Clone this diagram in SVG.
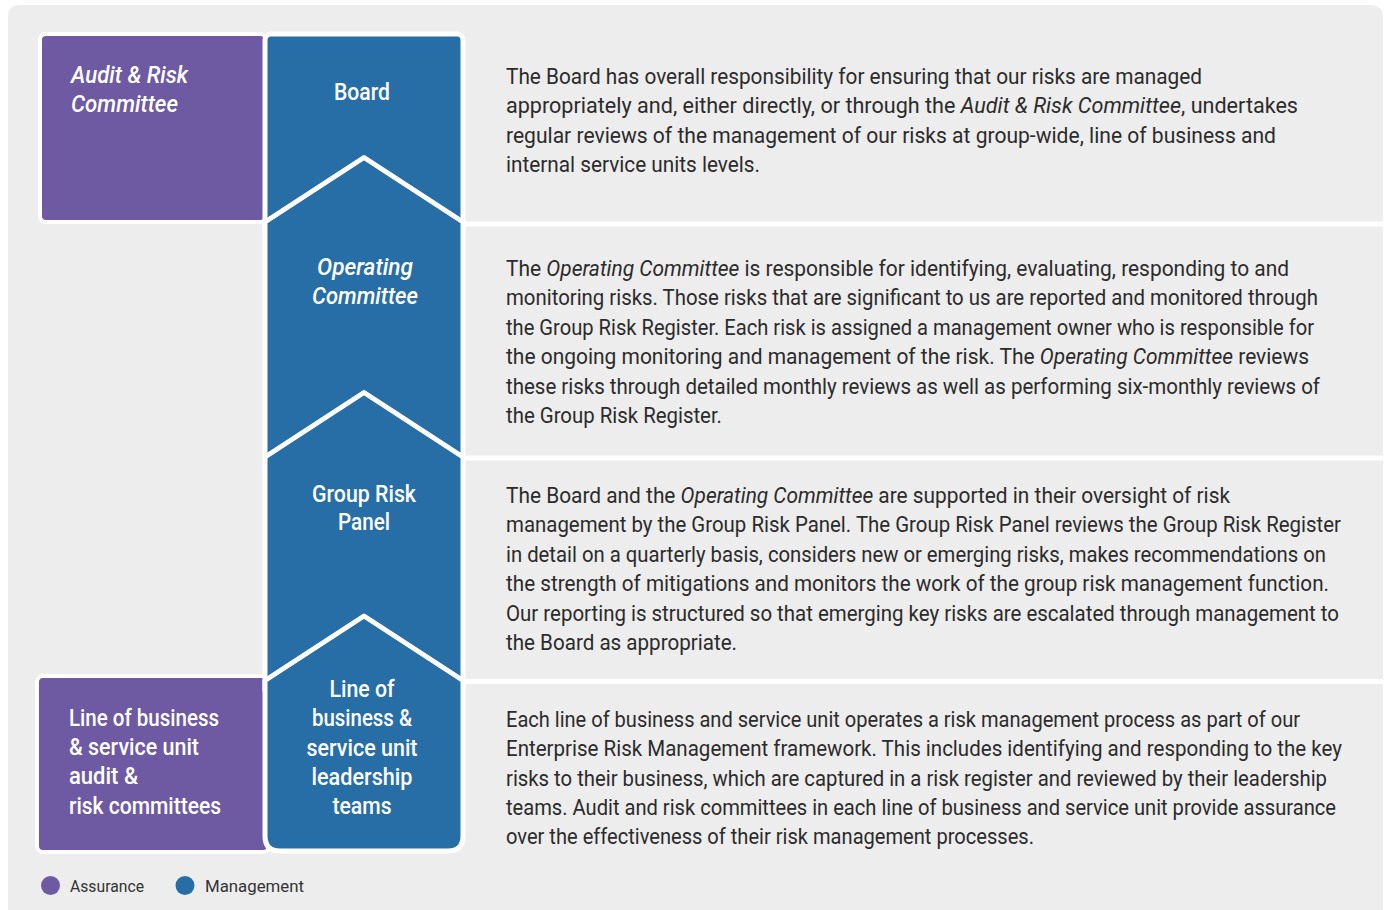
<svg xmlns="http://www.w3.org/2000/svg" width="1389" height="910" viewBox="0 0 1389 910">
<style>
.bg{fill:#ededed}
.sep{fill:#ffffff}
.purple{fill:#6e59a3;stroke:#ffffff;stroke-width:4}
.blue{fill:#276ea7;stroke:#ffffff;stroke-width:5;stroke-linejoin:round}
.lbl{font-family:Roboto,"Open Sans",sans-serif;font-weight:500;font-size:23px;fill:#ffffff}
.body{font-family:Roboto,"Open Sans",sans-serif;font-size:22px;fill:#2b2b2b}
.it{font-style:italic}
.leg{font-family:Roboto,"Open Sans",sans-serif;font-size:17px;fill:#333333}
</style>
<g id="background">
<path class="bg" d="M8,17 Q8,5 20,5 L1371,5 Q1383,5 1383,17 L1383,910 L8,910 Z"/>
<rect class="sep" x="465" y="221.5" width="918" height="5"/>
<rect class="sep" x="465" y="455.5" width="918" height="5"/>
<rect class="sep" x="465" y="679" width="918" height="5"/>
</g>
<g id="audit-risk-committee">
<rect class="purple" x="40" y="34" width="226" height="188" rx="6"/>
<text class="lbl it" x="71" y="83" textLength="117" lengthAdjust="spacingAndGlyphs">Audit &amp; Risk</text>
<text class="lbl it" x="71" y="112" textLength="107" lengthAdjust="spacingAndGlyphs">Committee</text>
</g>
<g id="lob-audit-risk">
<rect class="purple" x="37" y="676" width="232" height="176" rx="6"/>
<text class="lbl" x="69" y="726" textLength="150" lengthAdjust="spacingAndGlyphs">Line of business</text>
<text class="lbl" x="69" y="755" textLength="130" lengthAdjust="spacingAndGlyphs">&amp; service unit</text>
<text class="lbl" x="69" y="784" textLength="69" lengthAdjust="spacingAndGlyphs">audit &amp;</text>
<text class="lbl" x="69" y="814" textLength="152" lengthAdjust="spacingAndGlyphs">risk committees</text>
</g>
<g id="board">
<rect class="blue" x="265" y="34" width="198" height="200" rx="6"/>
<text class="lbl" x="362" y="100" text-anchor="middle" textLength="56" lengthAdjust="spacingAndGlyphs">Board</text>
</g>
<g id="operating-committee">
<path class="blue" d="M265,222 L364,157.5 L463,222 L463,470 L265,470 Z"/>
<text class="lbl it" x="365" y="275" text-anchor="middle" textLength="96" lengthAdjust="spacingAndGlyphs">Operating</text>
<text class="lbl it" x="365" y="304" text-anchor="middle" textLength="106" lengthAdjust="spacingAndGlyphs">Committee</text>
</g>
<g id="group-risk-panel">
<path class="blue" d="M265,457 L364,392.5 L463,457 L463,690 L265,690 Z"/>
<text class="lbl" x="364" y="502" text-anchor="middle" textLength="104" lengthAdjust="spacingAndGlyphs">Group Risk</text>
<text class="lbl" x="364" y="530" text-anchor="middle" textLength="52" lengthAdjust="spacingAndGlyphs">Panel</text>
</g>
<g id="lob-leadership">
<path class="blue" d="M265,680.5 L364,616 L463,680.5 L463,836 Q463,851 448,851 L280,851 Q265,851 265,836 Z"/>
<text class="lbl" x="362" y="697" text-anchor="middle" textLength="65" lengthAdjust="spacingAndGlyphs">Line of</text>
<text class="lbl" x="362" y="726" text-anchor="middle" textLength="100" lengthAdjust="spacingAndGlyphs">business &amp;</text>
<text class="lbl" x="362" y="756" text-anchor="middle" textLength="111" lengthAdjust="spacingAndGlyphs">service unit</text>
<text class="lbl" x="362" y="785" text-anchor="middle" textLength="101" lengthAdjust="spacingAndGlyphs">leadership</text>
<text class="lbl" x="362" y="814" text-anchor="middle" textLength="59" lengthAdjust="spacingAndGlyphs">teams</text>
</g>
<g id="text-board">
<text class="body" x="506" y="84" textLength="696" lengthAdjust="spacingAndGlyphs">The Board has overall responsibility for ensuring that our risks are managed</text>
<text class="body" x="506" y="113.3" textLength="792" lengthAdjust="spacingAndGlyphs">appropriately and, either directly, or through the <tspan class="it">Audit &amp; Risk Committee</tspan>, undertakes</text>
<text class="body" x="506" y="142.6" textLength="770" lengthAdjust="spacingAndGlyphs">regular reviews of the management of our risks at group-wide, line of business and</text>
<text class="body" x="506" y="172" textLength="254" lengthAdjust="spacingAndGlyphs">internal service units levels.</text>
</g>
<g id="text-operating">
<text class="body" x="506" y="276" textLength="783" lengthAdjust="spacingAndGlyphs">The <tspan class="it">Operating Committee</tspan> is responsible for identifying, evaluating, responding to and</text>
<text class="body" x="506" y="305.4" textLength="812" lengthAdjust="spacingAndGlyphs">monitoring risks. Those risks that are significant to us are reported and monitored through</text>
<text class="body" x="506" y="334.8" textLength="808" lengthAdjust="spacingAndGlyphs">the Group Risk Register. Each risk is assigned a management owner who is responsible for</text>
<text class="body" x="506" y="364.2" textLength="803" lengthAdjust="spacingAndGlyphs">the ongoing monitoring and management of the risk. The <tspan class="it">Operating Committee</tspan> reviews</text>
<text class="body" x="506" y="393.6" textLength="814" lengthAdjust="spacingAndGlyphs">these risks through detailed monthly reviews as well as performing six-monthly reviews of</text>
<text class="body" x="506" y="423" textLength="216" lengthAdjust="spacingAndGlyphs">the Group Risk Register.</text>
</g>
<g id="text-group-risk">
<text class="body" x="506" y="503" textLength="724" lengthAdjust="spacingAndGlyphs">The Board and the <tspan class="it">Operating Committee</tspan> are supported in their oversight of risk</text>
<text class="body" x="506" y="532.4" textLength="835" lengthAdjust="spacingAndGlyphs">management by the Group Risk Panel. The Group Risk Panel reviews the Group Risk Register</text>
<text class="body" x="506" y="561.8" textLength="820" lengthAdjust="spacingAndGlyphs">in detail on a quarterly basis, considers new or emerging risks, makes recommendations on</text>
<text class="body" x="506" y="591.2" textLength="823" lengthAdjust="spacingAndGlyphs">the strength of mitigations and monitors the work of the group risk management function.</text>
<text class="body" x="506" y="620.6" textLength="833" lengthAdjust="spacingAndGlyphs">Our reporting is structured so that emerging key risks are escalated through management to</text>
<text class="body" x="506" y="650" textLength="231" lengthAdjust="spacingAndGlyphs">the Board as appropriate.</text>
</g>
<g id="text-lob">
<text class="body" x="506" y="727" textLength="794" lengthAdjust="spacingAndGlyphs">Each line of business and service unit operates a risk management process as part of our</text>
<text class="body" x="506" y="756.3" textLength="836" lengthAdjust="spacingAndGlyphs">Enterprise Risk Management framework. This includes identifying and responding to the key</text>
<text class="body" x="506" y="785.6" textLength="821" lengthAdjust="spacingAndGlyphs">risks to their business, which are captured in a risk register and reviewed by their leadership</text>
<text class="body" x="506" y="814.9" textLength="830" lengthAdjust="spacingAndGlyphs">teams. Audit and risk committees in each line of business and service unit provide assurance</text>
<text class="body" x="506" y="844.2" textLength="528" lengthAdjust="spacingAndGlyphs">over the effectiveness of their risk management processes.</text>
</g>
<g id="legend">
<circle cx="50.5" cy="885.5" r="9.5" fill="#6e59a3"/>
<text class="leg" x="70" y="892" textLength="74" lengthAdjust="spacingAndGlyphs">Assurance</text>
<circle cx="185" cy="885.5" r="9.5" fill="#276ea7"/>
<text class="leg" x="205" y="892" textLength="99" lengthAdjust="spacingAndGlyphs">Management</text>
</g>
<g id="connectors"/>
</svg>
